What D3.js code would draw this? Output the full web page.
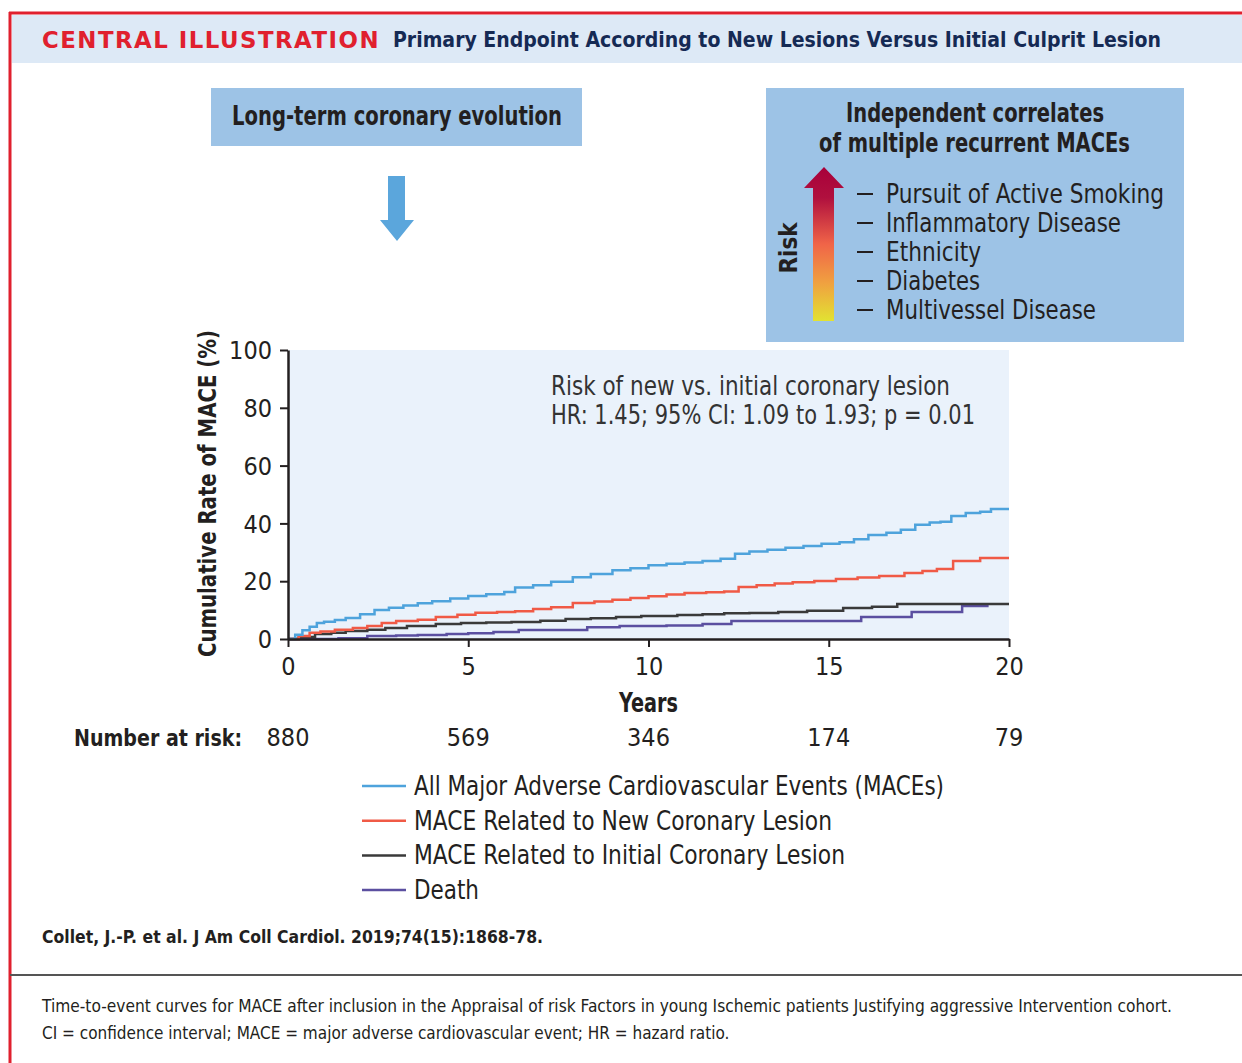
<!DOCTYPE html>
<html>
<head>
<meta charset="utf-8">
<script src="https://cdn.jsdelivr.net/npm/d3@7"></script>
<style>
  html, body { margin: 0; padding: 0; background: #fff; }
  svg { display: block; }
  text { font-family: "DejaVu Sans Condensed", "Roboto", sans-serif; }
</style>
</head>
<body>
<svg id="chart" width="1242" height="1063"></svg>
<script>
// ---------- DATA ----------
const xTicks = [0, 5, 10, 15, 20];
const yTicks = [0, 20, 40, 60, 80, 100];
const numberAtRisk = [880, 569, 346, 174, 79];

const allMaceYears = [0,0.2,0.4,0.6,0.8,1.0,1.3,1.6,2.0,2.4,2.8,3.2,3.6,4.0,4.5,5.0,5.5,6.0,6.3,6.8,7.3,7.9,8.4,9.0,9.5,10.0,10.5,11.0,11.5,12.0,12.4,12.8,13.3,13.8,14.3,14.8,15.3,15.7,16.1,16.6,17.0,17.4,17.8,18.1,18.4,18.8,19.2,19.5,20];
const allMaceValues = [0,1.5,3,4.2,5.5,6,6.6,7.3,8.6,10,10.8,11.6,12.4,13.1,14,14.9,15.5,16.3,17.8,18.6,19.8,21.4,22.5,23.8,24.5,25.5,26,26.5,27,27.8,29.5,30.3,30.9,31.6,32.2,33,33.5,34.5,36,36.8,37.8,39.5,40.3,40.6,42.6,43.6,44,45,45];

const newLesionYears = [0,0.3,0.6,0.9,1.3,1.8,2.2,2.6,3.0,3.6,4.1,4.7,5.2,5.8,6.3,6.8,7.3,7.9,8.5,9.0,9.5,10.0,10.5,11.0,11.6,12.1,12.5,13.0,13.5,14.0,14.6,15.2,15.8,16.4,17.1,17.6,18.0,18.45,19.2,20];
const newLesionValues = [0,1,2.2,2.6,3.2,3.8,4.5,5.5,6.2,6.7,7.6,8.4,9.1,9.3,9.6,10.4,11,12.5,13,13.6,14.2,14.8,15.4,15.9,16.2,16.4,18,18.6,19.2,19.6,20.1,20.8,21.3,21.8,22.8,23.5,24.2,27,28,28];

const initialLesionYears = [0,0.3,0.75,1.2,1.6,2.2,2.7,3.3,4.1,4.8,5.5,6.2,7.0,7.7,8.4,9.1,9.8,10.8,11.5,12.1,12.8,13.6,14.4,15.4,16.2,16.9,20];
const initialLesionValues = [0,0.7,1.7,2.2,2.8,3.2,3.8,4.5,5.2,5.5,5.7,5.9,6.3,6.9,7.2,7.6,8,8.3,8.6,8.9,9.0,9.3,9.8,10.7,11.2,12.1,12.1];

const deathYears = [0,1.4,2.2,3.0,3.6,4.4,5.0,5.7,6.4,7.7,8.3,9.2,10.5,11.5,12.3,13.5,15.9,17.3,18.7,19.4];
const deathValues = [0,0.3,1,1.2,1.4,1.7,2.0,2.4,3.1,3.1,4.1,4.5,4.7,5.2,6.2,6.2,7.6,9.3,11.4,11.8];

const seriesNames = [
  "All Major Adverse Cardiovascular Events (MACEs)",
  "MACE Related to New Coronary Lesion",
  "MACE Related to Initial Coronary Lesion",
  "Death"
];
const seriesColors = ["#4ea3dc", "#f05a46", "#3a3a3a", "#5b4fa0"];

const riskFactors = ["Pursuit of Active Smoking", "Inflammatory Disease", "Ethnicity", "Diabetes", "Multivessel Disease"];

// ---------- DRAW ----------
const svg = d3.select("#chart");
const ink = "#231f20";

// squeeze a text horizontally to a target width (the reference uses a condensed face)
function fit(sel, w) {
  const n = sel.node();
  const cur = n.getComputedTextLength();
  if (cur > 0 && Math.abs(cur - w) > 1) sel.attr("textLength", w).attr("lengthAdjust", "spacingAndGlyphs");
  return sel;
}

// frame
svg.append("rect").attr("x", 12).attr("y", 15).attr("width", 1230).attr("height", 48).attr("fill", "#dde9f6");
svg.append("line").attr("x1", 9).attr("x2", 1242).attr("y1", 13).attr("y2", 13).attr("stroke", "#e0202e").attr("stroke-width", 3);
svg.append("line").attr("x1", 10).attr("x2", 10).attr("y1", 12).attr("y2", 1063).attr("stroke", "#e0202e").attr("stroke-width", 3);

svg.append("text").attr("x", 42).attr("y", 48).attr("fill", "#e0202e")
  .attr("font-size", 23).attr("font-weight", "bold").attr("letter-spacing", 1.5)
  .style("font-family", "'DejaVu Sans', sans-serif")
  .attr("textLength", 338).attr("lengthAdjust", "spacingAndGlyphs")
  .text("CENTRAL ILLUSTRATION");
svg.append("text").attr("x", 393).attr("y", 47).attr("fill", "#152a54")
  .attr("font-size", 21).attr("font-weight", "bold")
  .attr("textLength", 768).attr("lengthAdjust", "spacingAndGlyphs")
  .text("Primary Endpoint According to New Lesions Versus Initial Culprit Lesion");

// left box
svg.append("rect").attr("x", 211).attr("y", 88).attr("width", 371).attr("height", 58).attr("fill", "#9dc3e6");
fit(svg.append("text").attr("x", 232).attr("y", 125).attr("fill", ink)
  .attr("font-size", 26).attr("font-weight", "bold").text("Long-term coronary evolution"), 330);

// down arrow
svg.append("path")
  .attr("d", "M388,176 L405,176 L405,220 L414,220 L397,241 L380,220 L388,220 Z")
  .attr("fill", "#5ba6dc");

// right box
svg.append("rect").attr("x", 766).attr("y", 88).attr("width", 418).attr("height", 254).attr("fill", "#9dc3e6");
fit(svg.append("text").attr("x", 846).attr("y", 122).attr("fill", ink)
  .attr("font-size", 26).attr("font-weight", "bold").text("Independent correlates"), 258);
fit(svg.append("text").attr("x", 819).attr("y", 152).attr("fill", ink)
  .attr("font-size", 26).attr("font-weight", "bold").text("of multiple recurrent MACEs"), 311);

const defs = svg.append("defs");
const grad = defs.append("linearGradient").attr("id", "riskGrad")
  .attr("x1", 0).attr("y1", 1).attr("x2", 0).attr("y2", 0);
grad.append("stop").attr("offset", "0%").attr("stop-color", "#e2e232");
grad.append("stop").attr("offset", "25%").attr("stop-color", "#f0a040");
grad.append("stop").attr("offset", "50%").attr("stop-color", "#f06448");
grad.append("stop").attr("offset", "80%").attr("stop-color", "#b0103e");
grad.append("stop").attr("offset", "100%").attr("stop-color", "#a8003a");
svg.append("path")
  .attr("d", "M813,321 L813,188 L804,188 L824,167 L844,188 L834,188 L834,321 Z")
  .attr("fill", "url(#riskGrad)");
svg.append("text").attr("transform", "translate(797,248) rotate(-90)").attr("text-anchor", "middle")
  .attr("fill", ink).attr("font-size", 24).attr("font-weight", "bold").text("Risk");

const rfWidths = [278, 235, 95, 94, 210];
const rf = svg.append("g");
riskFactors.forEach((t, i) => {
  const yb = 203 + i * 29;
  rf.append("line").attr("x1", 857).attr("x2", 873).attr("y1", yb - 9).attr("y2", yb - 9)
    .attr("stroke", ink).attr("stroke-width", 2);
  fit(rf.append("text").attr("x", 886).attr("y", yb).attr("fill", ink).attr("font-size", 26).text(t), rfWidths[i]);
});

// plot
const x = d3.scaleLinear().domain([0, 20]).range([288, 1009]);
const y = d3.scaleLinear().domain([0, 100]).range([639, 350]);

svg.append("rect").attr("x", x(0)).attr("y", y(100)).attr("width", x(20) - x(0)).attr("height", y(0) - y(100)).attr("fill", "#eaf2fb");

const lineGen = d3.line().x(d => x(d[0])).y(d => y(d[1])).curve(d3.curveStepAfter);
const series = [
  [allMaceYears, allMaceValues],
  [newLesionYears, newLesionValues],
  [initialLesionYears, initialLesionValues],
  [deathYears, deathValues]
];
[3, 2, 1, 0].forEach(i => {
  const pts = d3.zip(series[i][0], series[i][1]);
  svg.append("path").datum(pts).attr("d", lineGen).attr("fill", "none")
    .attr("stroke", seriesColors[i]).attr("stroke-width", 2.5);
});

const xAxis = svg.append("g").attr("transform", `translate(0,${y(0)})`)
  .call(d3.axisBottom(x).tickValues(xTicks).tickSize(8).tickPadding(10).tickSizeOuter(0));
const yAxis = svg.append("g").attr("transform", `translate(${x(0)},0)`)
  .call(d3.axisLeft(y).tickValues(yTicks).tickSize(8).tickPadding(8).tickSizeOuter(0));
[xAxis, yAxis].forEach(a => {
  a.select(".domain").attr("stroke", ink).attr("stroke-width", 2.5);
  a.selectAll(".tick line").attr("stroke", ink).attr("stroke-width", 2);
  a.selectAll(".tick text").attr("fill", ink).attr("font-size", 25)
    .style("font-family", "'DejaVu Sans Condensed', sans-serif");
});
yAxis.selectAll(".tick text").attr("dy", "0.35em");

fit(svg.append("text").attr("transform", "translate(216,657) rotate(-90)")
  .attr("fill", ink).attr("font-size", 24).attr("font-weight", "bold").text("Cumulative Rate of MACE (%)"), 327);

fit(svg.append("text").attr("x", 551).attr("y", 395).attr("fill", "#333").attr("font-size", 26)
  .text("Risk of new vs. initial coronary lesion"), 399);
fit(svg.append("text").attr("x", 551).attr("y", 424).attr("fill", "#333").attr("font-size", 26)
  .text("HR: 1.45; 95% CI: 1.09 to 1.93; p = 0.01"), 424);

fit(svg.append("text").attr("x", 619).attr("y", 712).attr("fill", ink)
  .attr("font-size", 26).attr("font-weight", "bold").text("Years"), 59);

fit(svg.append("text").attr("x", 74).attr("y", 746).attr("fill", ink).attr("font-size", 22.5)
  .attr("font-weight", "bold").text("Number at risk:"), 168);
svg.append("g").selectAll("text").data(numberAtRisk).join("text")
  .attr("x", (d, i) => x(xTicks[i])).attr("y", 746).attr("text-anchor", "middle")
  .attr("fill", ink).attr("font-size", 25).text(d => d);

// legend
const legendWidths = [530, 418, 431, 65];
const lg = svg.append("g");
seriesNames.forEach((n, i) => {
  const ly = 786 + i * 34.7;
  lg.append("line").attr("x1", 362).attr("x2", 406).attr("y1", ly).attr("y2", ly)
    .attr("stroke", seriesColors[i]).attr("stroke-width", 2.5);
  fit(lg.append("text").attr("x", 414).attr("y", ly + 9).attr("fill", ink).attr("font-size", 26).text(n), legendWidths[i]);
});

// citation and caption
fit(svg.append("text").attr("x", 42).attr("y", 943).attr("fill", ink).attr("font-size", 18).attr("font-weight", "bold")
  .text("Collet, J.-P. et al. J Am Coll Cardiol. 2019;74(15):1868-78."), 501);
svg.append("line").attr("x1", 10).attr("x2", 1242).attr("y1", 975).attr("y2", 975).attr("stroke", "#555").attr("stroke-width", 2);
fit(svg.append("text").attr("x", 42).attr("y", 1012).attr("fill", ink).attr("font-size", 17)
  .text("Time-to-event curves for MACE after inclusion in the Appraisal of risk Factors in young Ischemic patients Justifying aggressive Intervention cohort."), 1130);
fit(svg.append("text").attr("x", 42).attr("y", 1039).attr("fill", ink).attr("font-size", 17)
  .text("CI = confidence interval; MACE = major adverse cardiovascular event; HR = hazard ratio."), 688);
</script>
</body>
</html>
